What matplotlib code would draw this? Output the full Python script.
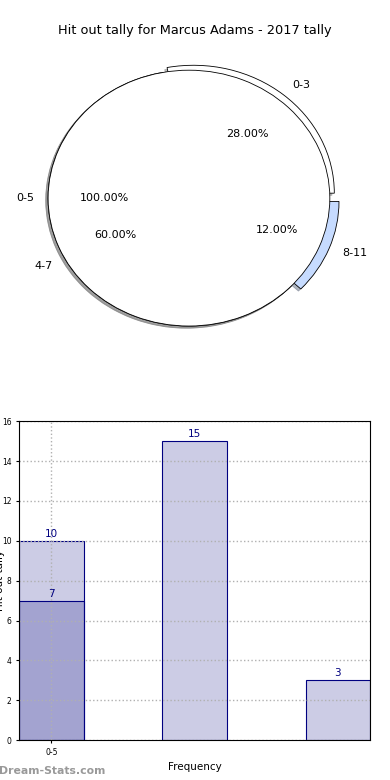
import matplotlib
matplotlib.use("Agg")
import matplotlib.pyplot as plt
import numpy as np

# pie data
total_labels = ['0-5']
total_values = [100]
range_labels = ['0-3', '8-11', '4-7']
range_values = [28, 12, 60]
range_colors = ['white', '#c6dbff', 'white']

# bar data
bar_labels = ['0-5', '6-10', '11+']
bar_values = [10, 15, 3]
sub_labels = ['0-5']
sub_values = [7]

fig = plt.figure(figsize=(3.9, 7.8), dpi=100)

# --- pie ---
shadow = {'ox': -0.012, 'oy': -0.012, 'shade': 0.5}
ax1 = fig.add_axes([0.033, 0.541, 0.903, 0.41])
ax1.pie(range_values, labels=range_labels, colors=range_colors,
        explode=(0.05, 0.07, 0), autopct='%.2f%%', pctdistance=0.6,
        startangle=100.8, counterclock=False, shadow=shadow,
        wedgeprops={'edgecolor': 'black', 'linewidth': 0.6},
        textprops={'fontsize': 8})
ax1.pie(total_values, labels=total_labels, colors=['white'],
        autopct='%.2f%%', pctdistance=0.6, startangle=0, shadow=shadow,
        wedgeprops={'edgecolor': 'black', 'linewidth': 0.6},
        textprops={'fontsize': 8})
ax1.set_aspect('auto')
ax1.set_xlim(-1.25, 1.25)
ax1.set_ylim(-1.25, 1.25)
fig.text(0.5, 0.961, 'Hit out tally for Marcus Adams - 2017 tally',
         ha='center', va='center', fontsize=9.3)

# --- bars ---
ax2 = fig.add_axes([0.049, 0.051, 0.9, 0.409])
x = np.arange(len(bar_values))
w = 0.45
fill = (0, 0, 0.5, 0.2)
b1 = ax2.bar(x, bar_values, w, color=fill, edgecolor='navy', linewidth=0.8)
b2 = ax2.bar(np.arange(len(sub_values)), sub_values, w, color=fill,
             edgecolor='navy', linewidth=0.8)
for b in list(b1) + list(b2):
    ax2.text(b.get_x() + b.get_width() / 2, b.get_height() + 0.1, str(int(b.get_height())),
             ha='center', va='bottom', fontsize=7.5, color='navy')
ax2.set_xlim(-w / 2, len(bar_values) - 1 + w / 2)
ax2.set_ylim(0, 16)
ax2.set_yticks(np.arange(0, 17, 2))
ax2.set_xticks([0])
ax2.set_xticklabels(sub_labels)
ax2.tick_params(labelsize=5.5, length=2)
ax2.grid(True, linestyle=':', color='#b0b0b0', linewidth=1)
ax2.set_xlabel('Frequency', fontsize=7.5)
ax2.set_ylabel('Hit out tally', fontsize=7.5)
ax2.yaxis.set_label_coords(-0.04, 0.5)

fig.text(-0.002, 0.012, 'Dream-Stats.com', fontsize=7.8, color='#999999',
         fontweight='bold', ha='left', va='center')

fig.savefig('out.png', dpi=100)
